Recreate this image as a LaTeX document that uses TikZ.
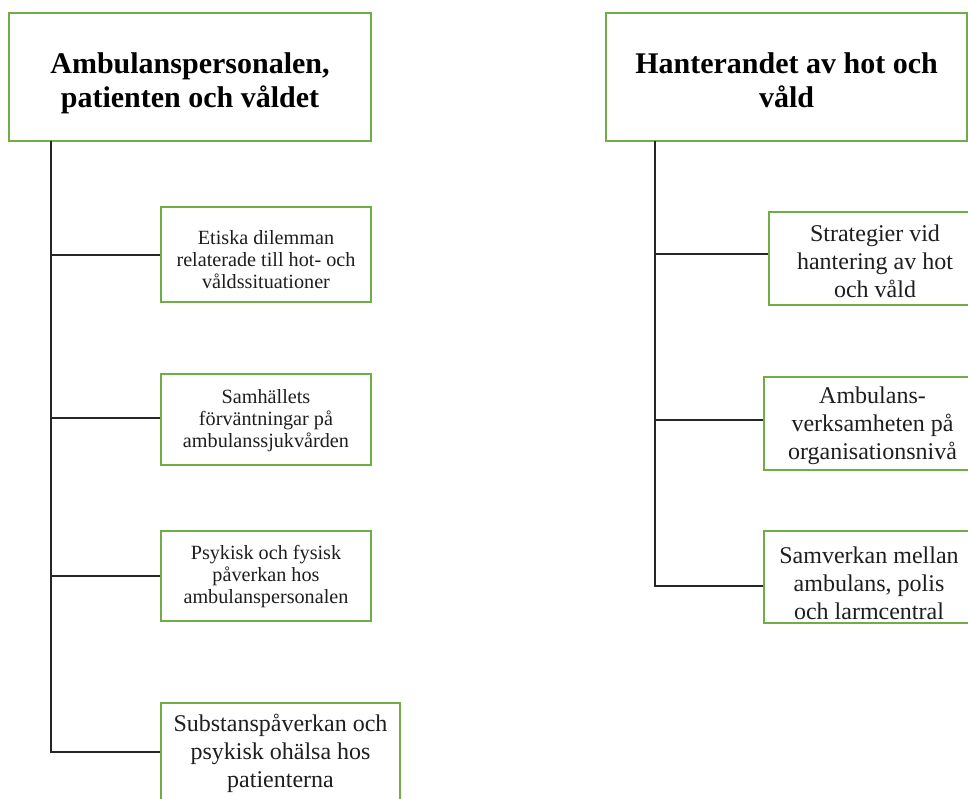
\documentclass[tikz,border=0pt]{standalone}
\usepackage{fontspec}
\setmainfont{Liberation Serif}
\definecolor{boxgreen}{RGB}{112,173,71}
\definecolor{txtgray}{RGB}{30,30,30}
\begin{document}
\begin{tikzpicture}[x=1pt,y=-1pt,
  box/.style={draw=boxgreen,line width=1.1pt,fill=white,inner sep=0pt,anchor=center},
  txt/.style={inner sep=0pt,align=center,anchor=center},
  titletxt/.style={txt,font=\bfseries\fontsize{30}{34.5}\selectfont,text=black},
  subsmall/.style={txt,font=\fontsize{20.2}{22}\selectfont,text=txtgray},
  sublarge/.style={txt,font=\fontsize{24}{28}\selectfont,text=txtgray},
  conn/.style={draw=black!85,line width=1.3pt}]
\useasboundingbox (0,0) rectangle (968,798);
\clip (0,0) rectangle (968,798);
\fill[white] (0,0) rectangle (968,798);
% left column boxes
\node[box,minimum width=362,minimum height=128] (L) at (190,77) {};
\node[box,minimum width=210,minimum height=95] (la) at (266,254.5) {};
\node[box,minimum width=210,minimum height=91] (lb) at (266,419.5) {};
\node[box,minimum width=210,minimum height=90] (lc) at (266,576) {};
\node[box,minimum width=239,minimum height=98] (ld) at (280.5,752) {};
% left column texts
\node[titletxt] (Lt) at (190,83.5) {Ambulanspersonalen,\\patienten och våldet};
\node[subsmall] (lat) at (266,260) {Etiska dilemman\\relaterade till hot- och\\våldssituationer};
\node[subsmall] (lbt) at (266,421) {Samhällets\\förväntningar på\\ambulanssjukvården};
\node[subsmall] (lct) at (266,577) {Psykisk och fysisk\\påverkan hos\\ambulanspersonalen};
\node[sublarge] (ldt) at (280.5,753) {Substanspåverkan och\\psykisk ohälsa hos\\patienterna};
\coordinate (lt) at (51,141);
\coordinate (laa) at ([yshift=-0.5pt]la.west);
\coordinate (lba) at ([yshift=1.5pt]lb.west);
\draw[conn] (lt) |- (ld.west);
\draw[conn] (lt |- laa) -- (laa);
\draw[conn] (lt |- lba) -- (lba);
\draw[conn] (lt |- lc.west) -- (lc.west);
% right column boxes
\node[box,minimum width=361,minimum height=128] (R) at (786.5,77) {};
\node[box,minimum width=212,minimum height=93] (ra) at (875,258.5) {};
\node[box,minimum width=217,minimum height=93] (rb) at (872.5,423.5) {};
\node[box,minimum width=210,minimum height=92] (rc) at (869,577) {};
% right column texts
\node[titletxt] (Rt) at (786.5,80) {Hanterandet av hot och\\våld};
\node[sublarge] (rat) at (875,261) {Strategier vid\\hantering av hot\\och våld};
\node[sublarge] (rbt) at (872.5,426) {Ambulans-\\verksamheten på\\organisationsnivå};
\node[sublarge] (rct) at (869,583) {Samverkan mellan\\ambulans, polis\\och larmcentral};
\coordinate (rt) at (655,141);
\coordinate (rca) at ([yshift=-9pt]rc.west);
\coordinate (raa) at ([yshift=4.5pt]ra.west);
\coordinate (rba) at ([yshift=3.5pt]rb.west);
\draw[conn] (rt) |- (rca);
\draw[conn] (rt |- raa) -- (raa);
\draw[conn] (rt |- rba) -- (rba);
\end{tikzpicture}
\end{document}
